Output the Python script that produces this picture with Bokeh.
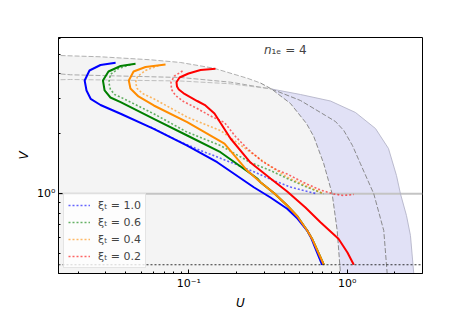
from bokeh.plotting import figure
from bokeh.models import FixedTicker, Span, Label, Range1d
from bokeh.embed import file_html
from bokeh.resources import INLINE

# ---- axis ranges / ticks ----
U_MIN, U_MAX = 0.01504, 2.99
V_MIN, V_MAX = 0.3977, 6.10
x_major = [0.1, 1.0]
x_minor = [0.02, 0.03, 0.04, 0.05, 0.06, 0.07, 0.08, 0.09,
           0.2, 0.3, 0.4, 0.5, 0.6, 0.7, 0.8, 0.9, 2.0, 3.0]
y_major = [1.0]
y_minor = [0.4, 0.5, 0.6, 0.7, 0.8, 0.9, 2.0, 3.0, 4.0, 5.0, 6.0]
x_tick_labels = {0.1: "10⁻¹", 1.0: "10⁰"}
y_tick_labels = {1.0: "10⁰"}
V_ONE = 1.0
V_FLOOR = 0.44

# ---- region boundaries ----
A_U = [0.0140, 0.0150, 0.0277, 0.0573, 0.0886, 0.1438, 0.2336, 0.2835, 0.3328,
       0.4386, 0.5534, 0.6152, 0.7116, 0.7619, 0.804, 0.8649, 0.9071, 0.920]
A_V = [4.96, 4.955, 4.880, 4.714, 4.569, 4.277, 3.810, 3.604, 3.362,
       2.843, 2.255, 1.941, 1.415, 1.166, 1.0, 0.654, 0.398, 0.327]
B_U = [0.0140, 0.0150, 0.0179, 0.0886, 0.1834, 0.3328]
B_V = [4.02, 4.009, 3.963, 3.841, 3.638, 3.362]
C_U = [0.0140, 0.0150, 0.0179, 0.0886, 0.1834, 0.3328]
C_V = [3.74, 3.740, 3.753, 3.688, 3.571, 3.362]
B2_U = [0.3328, 0.5071, 0.7295, 0.8435, 0.9518, 1.080, 1.2134, 1.4724, 1.7023, 1.7889, 1.810]
B2_V = [3.362, 2.943, 2.475, 2.308, 2.080, 1.748, 1.415, 1.0, 0.654, 0.398, 0.327]
C2_U = [0.3328, 0.5071, 0.7845, 1.1281, 1.509, 1.823, 2.048, 2.170, 2.368, 2.510, 2.633, 2.660]
C2_V = [3.362, 3.155, 2.926, 2.562, 2.129, 1.689, 1.236, 1.0, 0.778, 0.617, 0.398, 0.327]

# ---- solid curves ----
blue_U = [0.0345, 0.0277, 0.0236, 0.0220, 0.0226, 0.0240, 0.0277, 0.0371, 0.0601,
          0.0977, 0.1511, 0.2572, 0.3280, 0.4181, 0.4856, 0.559, 0.5952, 0.631, 0.695]
blue_V = [4.553, 4.438, 4.165, 3.710, 3.305, 3.002, 2.794, 2.524, 2.121,
          1.748, 1.441, 1.079, 0.958, 0.841, 0.751, 0.654, 0.596, 0.531, 0.44]
green_U = [0.0461, 0.0371, 0.0311, 0.0287, 0.0294, 0.0320, 0.0371, 0.0601, 0.0977,
           0.1585, 0.2451, 0.2702, 0.2835, 0.3475, 0.4181, 0.4856, 0.559, 0.6039, 0.640, 0.712]
green_V = [4.501, 4.387, 4.117, 3.710, 3.305, 3.047, 2.886, 2.382, 1.963,
           1.618, 1.265, 1.194, 1.144, 1.003, 0.873, 0.769, 0.654, 0.589, 0.531, 0.44]
orange_U = [0.0713, 0.0533, 0.0448, 0.0418, 0.0428, 0.0481, 0.0601, 0.0977, 0.1680,
            0.2336, 0.2835, 0.3475, 0.4181, 0.4856, 0.559, 0.6039, 0.640, 0.712]
orange_V = [4.464, 4.337, 4.117, 3.710, 3.382, 3.083, 2.778, 2.290, 1.789,
            1.309, 1.144, 1.003, 0.873, 0.769, 0.654, 0.589, 0.531, 0.44]
red_U = [0.1474, 0.1186, 0.0996, 0.0874, 0.0836, 0.0842, 0.0865, 0.0940, 0.1130,
         0.1274, 0.1453, 0.1834, 0.2451, 0.3280, 0.4181, 0.545, 0.678, 0.881, 1.004, 1.101]
red_V = [4.248, 4.189, 4.023, 3.841, 3.638, 3.461, 3.343, 3.173, 2.926,
         2.778, 2.533, 1.896, 1.436, 1.194, 1.027, 0.853, 0.720, 0.594, 0.507, 0.44]

# ---- dotted curves ----
blue_d_U = [0.0573, 0.0845, 0.1186, 0.1924, 0.2636, 0.3425, 0.4386, 0.545, 0.6465]
blue_d_V = [2.166, 1.853, 1.651, 1.420, 1.280, 1.166, 1.082, 1.033, 1.0]
green_d_U = [0.0428, 0.0360, 0.0320, 0.03125, 0.0320, 0.0340, 0.0371, 0.0601, 0.0977,
             0.1585, 0.2451, 0.3280, 0.4181, 0.545, 0.712]
green_d_V = [4.449, 4.262, 3.977, 3.638, 3.343, 3.155, 3.058, 2.524, 2.039,
             1.748, 1.436, 1.309, 1.194, 1.088, 1.0]
orange_d_U = [0.0644, 0.0533, 0.0474, 0.0461, 0.0472, 0.0510, 0.0601, 0.0977, 0.1585,
              0.2451, 0.3280, 0.4181, 0.545, 0.712]
orange_d_V = [4.413, 4.165, 3.886, 3.625, 3.382, 3.191, 3.002, 2.427, 2.080,
              1.618, 1.371, 1.212, 1.101, 1.0]
red_d_U = [0.0913, 0.0812, 0.0772, 0.0778, 0.0824, 0.0926, 0.1130, 0.1371, 0.1680,
           0.1971, 0.2336, 0.2919, 0.3615, 0.4181, 0.5297, 0.678, 0.819, 0.948, 1.101]
red_d_V = [4.141, 3.908, 3.638, 3.343, 3.119, 2.909, 2.683, 2.460, 2.282,
           1.941, 1.689, 1.453, 1.317, 1.257, 1.140, 1.045, 0.998, 0.981, 0.992]

xi_labels = ["ξₜ = 1.0", "ξₜ = 0.6", "ξₜ = 0.4", "ξₜ = 0.2"]
colors = ["#0000ff", "#008000", "#ff8c00", "#ff0000"]

FONT = "DejaVu Sans"

p = figure(width=469, height=313, x_axis_type="log", y_axis_type="log",
           x_range=Range1d(U_MIN, U_MAX), y_range=Range1d(V_MIN, V_MAX),
           output_backend="svg", toolbar_location=None,
           min_border_left=58, min_border_right=47, min_border_top=37, min_border_bottom=40)
p.xgrid.visible = False
p.ygrid.visible = False
p.background_fill_color = "white"
p.border_fill_color = "white"
p.outline_line_color = "black"
p.outline_line_width = 1
p.outline_line_alpha = 1.0

# regions
conv = 8
gray_r = p.patch(A_U + [A_U[0]], A_V + [A_V[-1]], fill_color="#f4f4f4", line_color=None)
gray_r.level = "image"
blue_r = p.patch(C2_U + A_U[conv:][::-1], C2_V + A_V[conv:][::-1],
                 fill_color="#e1e1f6", line_color=None)
blue_r.level = "image"

p.add_layout(Span(location=V_ONE, dimension="width", line_color="#c4c4c4",
                  line_width=2, level="underlay"))

# boundary lines
p.line(A_U[:conv], A_V[:conv], line_color="#a8a8a8", line_width=0.9, line_dash="5 2")
p.line(A_U[conv - 1:], A_V[conv - 1:], line_color="#808080", line_width=0.9, line_dash="5 2")
p.line(B_U, B_V, line_color="#a0a0a0", line_width=0.9, line_dash="5 2")
p.line(C_U, C_V, line_color="#b8b8b8", line_width=0.9, line_dash="5 2")
p.line(B2_U, B2_V, line_color="#808080", line_width=0.9, line_dash="5 2")
p.line(C2_U, C2_V, line_color="#b4b4c8", line_width=0.9)

# dotted curves (legend)
dotted = [(blue_d_U, blue_d_V), (green_d_U, green_d_V), (orange_d_U, orange_d_V), (red_d_U, red_d_V)]
for (u, v), c, lab in zip(dotted, colors, xi_labels):
    p.line(u, v, line_color=c, line_width=1.6, line_dash="2 2", line_alpha=0.6, legend_label=lab)

# solid curves
solid = [(green_U, green_V), (blue_U, blue_V), (orange_U, orange_V), (red_U, red_V)]
solid_colors = [colors[1], colors[0], colors[2], colors[3]]
for (u, v), c in zip(solid, solid_colors):
    p.line(u, v, line_color=c, line_width=2)

p.add_layout(Span(location=V_FLOOR, dimension="width", line_color="black",
                  line_width=0.8, line_dash="2 2"))

# axes
p.xaxis.ticker = FixedTicker(ticks=x_major, minor_ticks=x_minor)
p.yaxis.ticker = FixedTicker(ticks=y_major, minor_ticks=y_minor)
p.xaxis.major_label_overrides = x_tick_labels
p.yaxis.major_label_overrides = y_tick_labels
p.xaxis.axis_label = "U"
p.yaxis.axis_label = "V"
for ax in (p.xaxis, p.yaxis):
    ax.axis_line_color = "black"
    ax.major_tick_in = 4
    ax.major_tick_out = 0
    ax.minor_tick_in = 2
    ax.minor_tick_out = 0
    ax.major_tick_line_color = "black"
    ax.minor_tick_line_color = "black"
    ax.major_label_text_font = FONT
    ax.major_label_text_font_size = "11px"
    ax.major_label_text_color = "black"
    ax.major_label_standoff = 3
    ax.axis_label_text_font = FONT
    ax.axis_label_text_font_size = "12px"
    ax.axis_label_text_font_style = "italic"
    ax.axis_label_text_color = "black"
    ax.axis_label_standoff = 3

# legend
lg = p.legend[0]
lg.location = "bottom_left"
lg.margin = 5
lg.padding = 4
lg.spacing = 3
lg.glyph_width = 22
lg.glyph_height = 14
lg.label_height = 14
lg.label_standoff = 8
lg.label_text_font = FONT
lg.label_text_font_size = "11px"
lg.border_line_color = "#cccccc"
lg.background_fill_alpha = 0.8

# n_1e annotation
p.add_layout(Label(x=0.3328, y=5.25, text="n", text_font=FONT, text_font_size="12px",
                   text_font_style="italic", text_align="right", text_baseline="middle"))
p.add_layout(Label(x=0.3328, y=5.25, text="₁ₑ = 4", text_font=FONT, text_font_size="12px",
                   text_align="left", text_baseline="middle"))

open("out.html", "w").write(file_html(p, INLINE))
